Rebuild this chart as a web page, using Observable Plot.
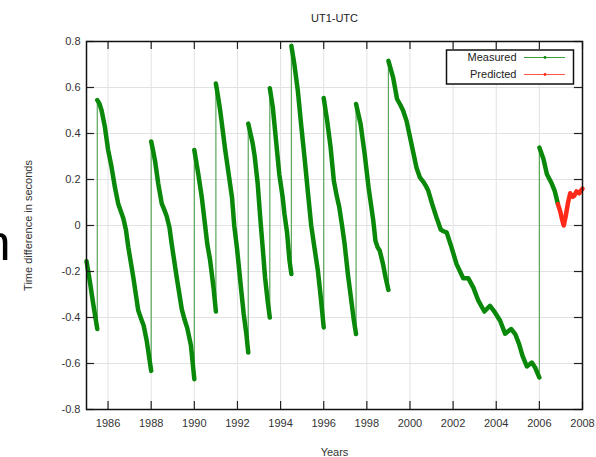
<!DOCTYPE html>
<html>
<head>
<meta charset="utf-8">
<script src="https://cdn.jsdelivr.net/npm/d3@7"></script>
<script src="https://cdn.jsdelivr.net/npm/@observablehq/plot@0.6"></script>
<style>
  html, body { margin: 0; padding: 0; background: #fff; }
  #wrap { position: relative; width: 596px; height: 457px; overflow: hidden; }
</style>
</head>
<body>
<div id="wrap"></div>
<script>
// ---- data ----
const title = "UT1-UTC";
const xLabel = "Years";
const yLabel = "Time difference in seconds";
const xTicks = [1986, 1988, 1990, 1992, 1994, 1996, 1998, 2000, 2002, 2004, 2006, 2008];
const yTicks = [-0.8, -0.6, -0.4, -0.2, 0, 0.2, 0.4, 0.6, 0.8];
const seriesNames = ["Measured", "Predicted"];

// measured UT1-UTC (year, seconds, segment between leap seconds)
const mYear = [
  1985.0, 1985.15, 1985.31, 1985.5,
  1985.5, 1985.6, 1985.7, 1985.85, 1986.0, 1986.15, 1986.32, 1986.47, 1986.6, 1986.71, 1986.83, 1986.94, 1987.17, 1987.4, 1987.55, 1987.65, 1987.79, 1988.0,
  1988.0, 1988.1, 1988.18, 1988.33, 1988.49, 1988.6, 1988.72, 1988.85, 1988.95, 1989.19, 1989.42, 1989.55, 1989.67, 1989.84, 1990.0,
  1990.0, 1990.19, 1990.35, 1990.5, 1990.6, 1990.73, 1990.89, 1991.0,
  1991.0, 1991.1, 1991.2, 1991.43, 1991.59, 1991.75, 1991.85, 1991.98, 1992.13, 1992.29, 1992.41, 1992.5,
  1992.5, 1992.58, 1992.7, 1992.8, 1992.94, 1993.06, 1993.17, 1993.28, 1993.4, 1993.5,
  1993.5, 1993.64, 1993.79, 1993.94, 1994.1, 1994.18, 1994.3, 1994.41, 1994.5,
  1994.5, 1994.64, 1994.8, 1994.95, 1995.11, 1995.26, 1995.42, 1995.57, 1995.73, 1995.88, 1996.0,
  1996.0, 1996.16, 1996.32, 1996.47, 1996.6, 1996.72, 1996.85, 1996.97, 1997.12, 1997.28, 1997.4, 1997.5,
  1997.5, 1997.71, 1997.9, 1998.08, 1998.3, 1998.4, 1998.5, 1998.6, 1998.75, 1998.87, 1999.0,
  1999.0, 1999.22, 1999.4, 1999.55, 1999.68, 1999.84, 2000.07, 2000.3, 2000.46, 2000.62, 2000.75, 2000.85, 2001.03, 2001.23, 2001.43, 2001.55, 2001.7, 2001.93, 2002.16, 2002.47, 2002.7, 2002.94, 2003.17, 2003.45, 2003.71, 2003.94, 2004.18, 2004.41, 2004.69, 2004.88, 2005.06, 2005.22, 2005.42, 2005.65, 2005.8, 2006.0,
  2006.0, 2006.19, 2006.35, 2006.55, 2006.71, 2006.86
];
const mValue = [
  -0.155, -0.24, -0.34, -0.45,
  0.545, 0.53, 0.50, 0.43, 0.33, 0.26, 0.165, 0.095, 0.06, 0.03, -0.02, -0.095, -0.225, -0.37, -0.41, -0.435, -0.50, -0.632,
  0.365, 0.32, 0.28, 0.18, 0.095, 0.07, 0.04, -0.01, -0.08, -0.23, -0.365, -0.41, -0.445, -0.52, -0.668,
  0.328, 0.22, 0.12, 0.0, -0.08, -0.15, -0.27, -0.374,
  0.617, 0.56, 0.50, 0.33, 0.225, 0.12, 0.0, -0.10, -0.24, -0.385, -0.47, -0.552,
  0.443, 0.41, 0.36, 0.30, 0.18, 0.03, -0.096, -0.226, -0.327, -0.40,
  0.597, 0.513, 0.368, 0.223, 0.12, 0.05, -0.03, -0.15, -0.211,
  0.781, 0.70, 0.586, 0.441, 0.296, 0.151, 0.0, -0.096, -0.197, -0.327, -0.443,
  0.554, 0.455, 0.339, 0.194, 0.13, 0.08, 0.0, -0.081, -0.211, -0.327, -0.414, -0.472,
  0.528, 0.441, 0.31, 0.165, 0.02, -0.067, -0.095, -0.11, -0.168, -0.226, -0.28,
  0.716, 0.643, 0.55, 0.525, 0.50, 0.455, 0.354, 0.252, 0.209, 0.19, 0.17, 0.151, 0.093, 0.035, -0.018, -0.025, -0.03, -0.096, -0.168, -0.229, -0.229, -0.27, -0.327, -0.374, -0.349, -0.378, -0.414, -0.47, -0.45, -0.472, -0.516, -0.567, -0.613, -0.596, -0.617, -0.661,
  0.339, 0.289, 0.223, 0.187, 0.151, 0.093
];
const mSeg = [
  0,0,0,0,
  1,1,1,1,1,1,1,1,1,1,1,1,1,1,1,1,1,1,
  2,2,2,2,2,2,2,2,2,2,2,2,2,2,2,
  3,3,3,3,3,3,3,3,
  4,4,4,4,4,4,4,4,4,4,4,4,
  5,5,5,5,5,5,5,5,5,5,
  6,6,6,6,6,6,6,6,6,
  7,7,7,7,7,7,7,7,7,7,7,
  8,8,8,8,8,8,8,8,8,8,8,8,
  9,9,9,9,9,9,9,9,9,9,9,
  10,10,10,10,10,10,10,10,10,10,10,10,10,10,10,10,10,10,10,10,10,10,10,10,10,10,10,10,10,10,10,10,10,10,10,10,
  11,11,11,11,11,11
];

// predicted UT1-UTC
const pYear  = [2006.86, 2006.97, 2007.07, 2007.13, 2007.22, 2007.33, 2007.43, 2007.55, 2007.62, 2007.72, 2007.85, 2007.95, 2008.0];
const pValue = [0.093, 0.06, 0.02, 0.0, 0.04, 0.10, 0.14, 0.125, 0.13, 0.148, 0.14, 0.155, 0.16];

// ---- build tables ----
const measured = mYear.map((x, i) => ({x, y: mValue[i], seg: mSeg[i]}));
const predicted = pYear.map((x, i) => ({x, y: pValue[i]}));

const GREEN = "#0a880a";
const GREEN_THIN = "#5aa65a";
const RED = "#ff2a1a";
const FONT = "'Liberation Sans', Arial, Helvetica, sans-serif";
const fmt = d => String(+(+d).toFixed(1));

const W = 596, H = 457, ML = 86, MR = 14, MT = 41, MB = 48;
const fw = W - ML - MR, fh = H - MT - MB;

const chart = Plot.plot({
  width: W, height: H,
  marginLeft: ML, marginRight: MR, marginTop: MT, marginBottom: MB,
  style: {fontFamily: FONT, fontSize: "11px", color: "#333", background: "#fff", overflow: "visible"},
  x: {domain: [1985, 2008]},
  y: {domain: [-0.8, 0.8]},
  marks: [
    Plot.gridX(xTicks, {stroke: "#e2e2e2", strokeOpacity: 1, strokeWidth: 1}),
    Plot.gridY(yTicks, {stroke: "#e2e2e2", strokeOpacity: 1, strokeWidth: 1}),
    Plot.line(measured, {x: "x", y: "y", stroke: GREEN_THIN, strokeWidth: 1.2}),
    Plot.line(measured, {x: "x", y: "y", z: "seg", stroke: GREEN, strokeWidth: 4.5, strokeLinecap: "round", strokeLinejoin: "round"}),
    Plot.line(predicted, {x: "x", y: "y", stroke: RED, strokeWidth: 4.5, strokeLinecap: "round", strokeLinejoin: "round"}),
    // inward tick marks on all four sides
    Plot.ruleX(xTicks, {x: d => d, insetTop: fh - 8, stroke: "#222", strokeWidth: 1.2}),
    Plot.ruleX(xTicks, {x: d => d, insetBottom: fh - 8, stroke: "#222", strokeWidth: 1.2}),
    Plot.ruleY(yTicks, {y: d => d, insetRight: fw - 8, stroke: "#222", strokeWidth: 1.2}),
    Plot.ruleY(yTicks, {y: d => d, insetLeft: fw - 8, stroke: "#222", strokeWidth: 1.2}),
    Plot.axisX(xTicks, {tickSize: 0, tickPadding: 10, tickFormat: d => String(d), fill: "#333",
      label: xLabel, labelAnchor: "center", labelOffset: 46, labelArrow: "none"}),
    Plot.axisY(yTicks, {tickSize: 0, tickPadding: 6, tickFormat: fmt, fill: "#333",
      label: yLabel, labelAnchor: "center", labelOffset: 62, labelArrow: "none"}),
    Plot.frame({stroke: "#111", strokeWidth: 1.5}),
    Plot.text([title], {frameAnchor: "top", dy: -27, fill: "#222", fontSize: 11})
  ]
});
document.getElementById("wrap").appendChild(chart);

// ---- legend (gnuplot-style key box, top right) ----
const svg = d3.select(chart);
const key = svg.append("g").attr("font-family", FONT).attr("font-size", 11);
key.append("rect").attr("x", 446.5).attr("y", 50).attr("width", 127).attr("height", 34)
  .attr("fill", "#fff").attr("stroke", "#111").attr("stroke-width", 1.5);
const keyColors = [GREEN, RED];
seriesNames.forEach((name, i) => {
  const cy = 57.5 + i * 17;
  key.append("text").attr("x", 516.5).attr("y", cy).attr("dy", "0.35em")
    .attr("text-anchor", "end").attr("fill", "#222").text(name);
  key.append("line").attr("x1", 524).attr("x2", 565).attr("y1", cy).attr("y2", cy)
    .attr("stroke", keyColors[i]).attr("stroke-width", 1.2).attr("stroke-opacity", 0.8);
  key.append("circle").attr("cx", 545).attr("cy", cy).attr("r", 1.4).attr("fill", keyColors[i]);
});

// cropped slide letter at the left edge
svg.append("text").attr("x", 10.5).attr("y", 260).attr("text-anchor", "end")
  .attr("font-family", FONT).attr("font-size", 50).attr("fill", "#000").text("n");
</script>
</body>
</html>
